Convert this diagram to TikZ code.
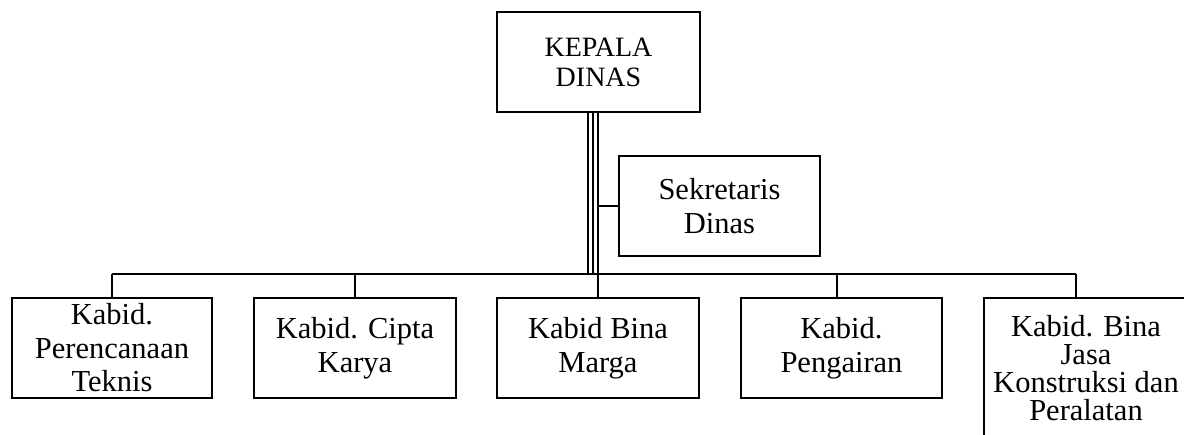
\documentclass[tikz,border=0pt]{standalone}
\usepackage{fontspec}
\setmainfont{Liberation Serif}
\begin{document}
\begin{tikzpicture}[x=1pt,y=-1pt,
  orgbox/.style={draw=black, line width=2.2pt, align=center, inner sep=0pt,
    minimum width=201, minimum height=100,
    font=\fontsize{30.5}{33.5}\selectfont},
  link/.style={draw=black, line width=2.2pt},
  thinlink/.style={draw=black, line width=1.3pt}]
\useasboundingbox (0,0) rectangle (1184,434);
\clip (0,0) rectangle (1184,434);

% head and secretary
\node[orgbox, minimum width=203, font=\fontsize{28}{30}\selectfont] (kepala) at (598.5,62) {KEPALA\\DINAS};
\node[orgbox] (sek) at (719.5,206) {Sekretaris\\Dinas};

% heads of division
\node[orgbox, minimum width=200] (b1) at (112,348) {Kabid.\\Perencanaan\\Teknis};
\node[orgbox, minimum width=202] (b2) at (355,348) {Kabid. Cipta\\Karya};
\node[orgbox, minimum width=202] (b3) at (598,348) {Kabid Bina\\Marga};
\node[orgbox, minimum width=201] (b4) at (841.5,348) {Kabid.\\Pengairan};
\node[orgbox, minimum width=204, minimum height=140,
      font=\fontsize{30.5}{28}\selectfont] (b5) at (1086,368)
      {Kabid. Bina\\Jasa\\Konstruksi dan\\Peralatan};

% horizontal bus
\coordinate (busL) at (112,274);
\coordinate (busR) at (1076,274);
\coordinate (b5top) at (1076,298);
\path[link] (busL) -- (busR);

% lines from the head
\path[thinlink] ([xshift=-10.5]kepala.south) -- ([xshift=-10.5]kepala.south |- busL);
\path[thinlink] ([xshift=-5.5]kepala.south) -- ([xshift=-5.5]kepala.south |- busL);
\path[link] ([xshift=-0.5]kepala.south) -- (b3.north);
\path[link] (b3.north |- sek.west) -- (sek.west);

% drops to the divisions
\path[link] (b1.north) -- (b1.north |- busL);
\path[link] (b2.north) -- (b2.north |- busL);
\path[link] ([xshift=-4.5]b4.north) -- ([xshift=-4.5]b4.north |- busL);
\path[link] (b5top) -- (busR);
\end{tikzpicture}
\end{document}
